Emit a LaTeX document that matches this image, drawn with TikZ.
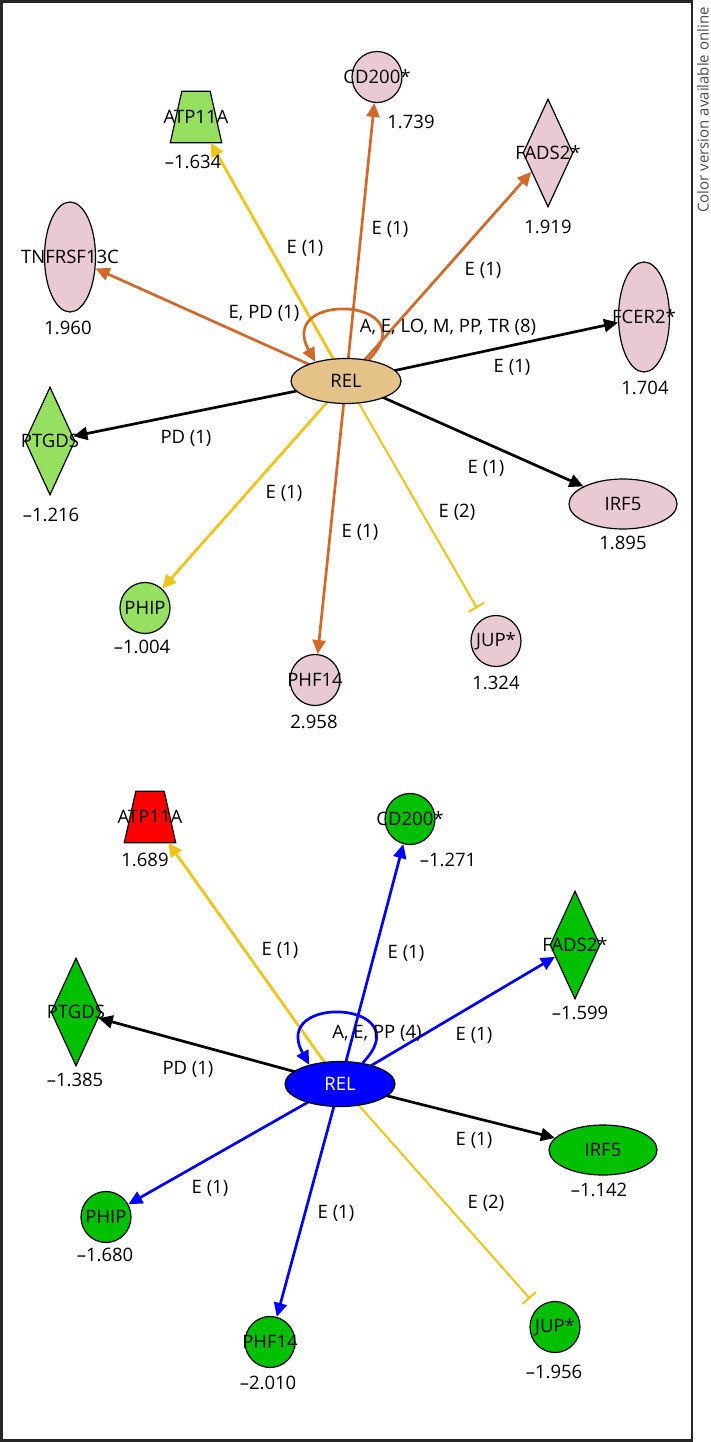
\documentclass[tikz,border=0pt]{standalone}
\usepackage{fontspec}
\setmainfont{Open Sans}
\usetikzlibrary{arrows.meta,shapes.geometric,backgrounds}
\definecolor{relTan}{RGB}{228,194,136}
\definecolor{upPink}{RGB}{234,202,210}
\definecolor{lightGrn}{RGB}{149,224,96}
\definecolor{dkGrn}{RGB}{0,192,0}
\definecolor{dkBlue}{RGB}{0,0,255}
\definecolor{edgeOrange}{RGB}{210,105,40}
\definecolor{edgeYellow}{RGB}{242,196,24}
\tikzset{
	gene/.style={draw=black, line width=1.2pt, inner sep=1pt},
	hub/.style={gene, ellipse, minimum width=110pt, minimum height=45pt},
	circ/.style={gene, ellipse, minimum width=50pt, minimum height=51pt},
	oval/.style={gene, ellipse, minimum width=108pt, minimum height=50pt},
	tall/.style={gene, ellipse, minimum width=51pt, minimum height=110pt},
	kite/.style={gene, diamond, minimum width=50pt, minimum height=108pt},
	trapbox/.style={rectangle, inner sep=0pt, minimum width=51pt, minimum height=51pt},
	act/.style={line width=2.7pt, -{Triangle[length=14pt,width=13pt]}},
	inh/.style={line width=2pt, -{Bar[width=18pt]}, shorten >=12pt},
}
\begin{document}
\begin{tikzpicture}[x=1pt,y=-1pt,font=\fontsize{18.5}{21}\selectfont]
		\useasboundingbox (0,0) rectangle (710,1442);
		\draw[line width=2.5pt, black!85] (1.5,1.5) rectangle (692,1440.5);
		\node[rotate=90, text=black!70, font=\fontsize{15}{17}\selectfont] (note) at (703,110) {Color version available online};
		% up-regulated network
		\node[hub, fill=relTan, label={center:REL}] (rel1) at (346,381) {};
		\node[trapbox, label={center:ATP11A}] (atp1) at (196,117) {};
		\node[circ, fill=upPink, label={center:CD200*}] (cd1) at (377,77) {};
		\node[kite, fill=upPink, label={center:FADS2*}] (fads1) at (548,153) {};
		\node[tall, fill=upPink, label={center:TNFRSF13C}] (tnf1) at (70,257) {};
		\node[tall, fill=upPink, label={center:FCER2*}] (fcer1) at (644,317) {};
		\node[kite, fill=lightGrn, label={center:PTGDS}] (ptg1) at (50,441) {};
		\node[oval, fill=upPink, label={center:IRF5}] (irf1) at (623,504) {};
		\node[circ, fill=lightGrn, label={center:PHIP}] (phip1) at (145,608) {};
		\node[circ, fill=upPink, label={center:PHF14}] (phf1) at (315,680) {};
		\node[circ, fill=upPink, label={center:JUP*}] (jup1) at (496,641) {};
		\node (vatp1) at (193,162) {–1.634};
		\node (vcd1) at (411,122) {1.739};
		\node (vfads1) at (548,227) {1.919};
		\node (vtnf1) at (68,328) {1.960};
		\node (vfcer1) at (645,388) {1.704};
		\node (vptg1) at (51,515) {–1.216};
		\node (virf1) at (623,543) {1.895};
		\node (vphip1) at (142,647) {–1.004};
		\node (vphf1) at (314,722) {2.958};
		\node (vjup1) at (496,683) {1.324};
		\begin{pgfonlayer}{background}
			\draw[gene, fill=lightGrn] (atp1.south west) -- (atp1.south east) -- ([xshift=-11.5pt]atp1.north east) -- ([xshift=11.5pt]atp1.north west) -- cycle;
			\draw[act, edgeYellow] (rel1.center) -- (atp1);
			\draw[act, edgeOrange] (rel1.center) -- (cd1);
			\draw[act, edgeOrange] (rel1.center) -- (fads1);
			\draw[act, edgeOrange] (rel1.center) -- (tnf1);
			\draw[act] (rel1.center) -- (fcer1);
			\draw[act] (rel1.center) -- (ptg1);
			\draw[act] (rel1.center) -- (irf1);
			\draw[act, edgeYellow] (rel1.center) -- (phip1);
			\draw[act, edgeOrange] (rel1.center) -- (phf1);
			\draw[inh, edgeYellow] (rel1.center) -- (jup1);
			\draw[act, edgeOrange] (rel1.43) .. controls +(60,-62) and +(-40,-72) .. (rel1.148);
		\end{pgfonlayer}
		\node (eatp1) at (305,248) {E (1)};
		\node (ecd1) at (390,229) {E (1)};
		\node (efads1) at (483,270) {E (1)};
		\node (etnf1) at (264,313) {E, PD (1)};
		\node (eself1) at (448,327) {A, E, LO, M, PP, TR (8)};
		\node (efcer1) at (512,367) {E (1)};
		\node (eptg1) at (186,438) {PD (1)};
		\node (eirf1) at (486,468) {E (1)};
		\node (ephip1) at (284,493) {E (1)};
		\node (ephf1) at (360,532) {E (1)};
		\node (ejup1) at (457,512) {E (2)};
		% down-regulated network
		\node[hub, fill=dkBlue, label={[text=white]center:REL}] (rel2) at (340,1084) {};
		\node[trapbox, label={center:ATP11A}] (atp2) at (150,817) {};
		\node[circ, fill=dkGrn, label={center:CD200*}] (cd2) at (410,819) {};
		\node[kite, fill=dkGrn, label={center:FADS2*}] (fads2) at (575,945) {};
		\node[kite, fill=dkGrn, label={center:PTGDS}] (ptg2) at (76,1012) {};
		\node[oval, fill=dkGrn, label={center:IRF5}] (irf2) at (603,1150) {};
		\node[circ, fill=dkGrn, label={center:PHIP}] (phip2) at (106,1217) {};
		\node[circ, fill=dkGrn, label={center:PHF14}] (phf2) at (270,1342) {};
		\node[circ, fill=dkGrn, label={center:JUP*}] (jup2) at (555,1327) {};
		\node (vatp2) at (145,860) {1.689};
		\node (vcd2) at (448,860) {–1.271};
		\node (vfads2) at (580,1013) {–1.599};
		\node (vptg2) at (75,1080) {–1.385};
		\node (virf2) at (599,1190) {–1.142};
		\node (vphip2) at (105,1255) {–1.680};
		\node (vphf2) at (268,1383) {–2.010};
		\node (vjup2) at (554,1372) {–1.956};
		\begin{pgfonlayer}{background}
			\draw[gene, fill=red] (atp2.south west) -- (atp2.south east) -- ([xshift=-11.5pt]atp2.north east) -- ([xshift=11.5pt]atp2.north west) -- cycle;
			\draw[act, edgeYellow] (rel2.center) -- (atp2);
			\draw[act, dkBlue] (rel2.center) -- (cd2);
			\draw[act, dkBlue] (rel2.center) -- (fads2);
			\draw[act] (rel2.center) -- (ptg2);
			\draw[act] (rel2.center) -- (irf2);
			\draw[act, dkBlue] (rel2.center) -- (phip2);
			\draw[act, dkBlue] (rel2.center) -- (phf2);
			\draw[inh, edgeYellow] (rel2.center) -- (jup2);
			\draw[act, dkBlue] (rel2.43) .. controls +(60,-62) and +(-40,-72) .. (rel2.148);
		\end{pgfonlayer}
		\node (eatp2) at (280,950) {E (1)};
		\node (ecd2) at (406,953) {E (1)};
		\node (efads2) at (474,1035) {E (1)};
		\node (eself2) at (377,1033) {A, E, PP (4)};
		\node (eptg2) at (188,1069) {PD (1)};
		\node (eirf2) at (474,1140) {E (1)};
		\node (ephip2) at (210,1188) {E (1)};
		\node (ephf2) at (336,1213) {E (1)};
		\node (ejup2) at (486,1203) {E (2)};
\end{tikzpicture}
\end{document}
